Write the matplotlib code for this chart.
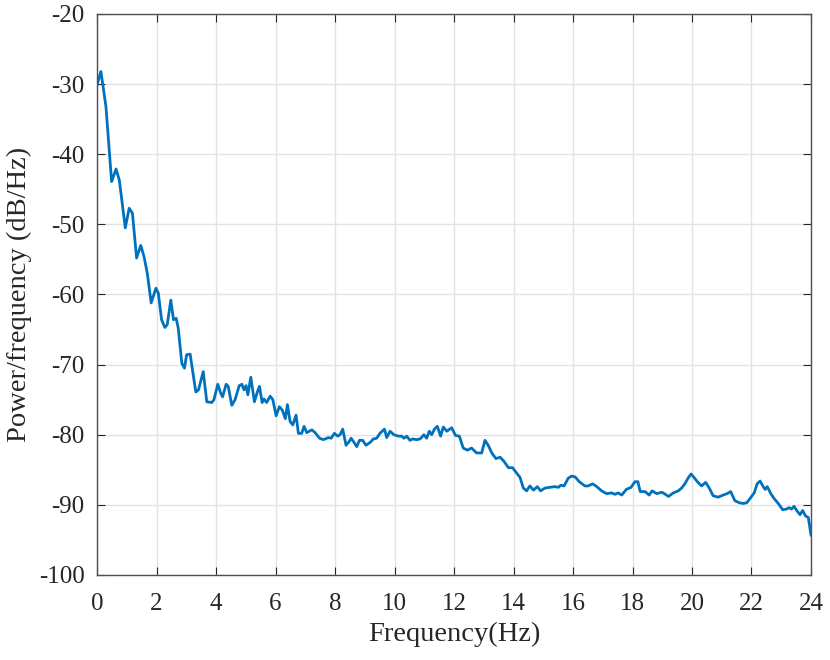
import matplotlib
matplotlib.use("Agg")
import matplotlib.pyplot as plt

plt.rcParams['font.family'] = ['Liberation Serif', 'DejaVu Serif']
plt.rcParams['axes.unicode_minus'] = False

# values
freq = [0.00, 0.13, 0.30, 0.49, 0.64, 0.75, 0.95, 1.08, 1.19, 1.33, 1.47, 1.58,
        1.69, 1.82, 1.98, 2.06, 2.17, 2.28, 2.36, 2.48, 2.57, 2.66, 2.73, 2.85,
        2.94, 3.01, 3.13, 3.32, 3.41, 3.57, 3.69, 3.86, 3.93, 4.06, 4.16, 4.22,
        4.34, 4.41, 4.53, 4.64, 4.78, 4.87, 4.94, 5.01, 5.07, 5.17, 5.29, 5.39,
        5.46, 5.55, 5.61, 5.70, 5.82, 5.91, 6.02, 6.13, 6.23, 6.33, 6.40, 6.49,
        6.58, 6.69, 6.77, 6.88, 6.96, 7.05, 7.22, 7.33, 7.48, 7.61, 7.78, 7.87,
        7.98, 8.09, 8.17, 8.26, 8.37, 8.47, 8.54, 8.64, 8.73, 8.82, 8.93, 9.04,
        9.18, 9.29, 9.40, 9.51, 9.66, 9.74, 9.85, 9.98, 10.13, 10.24, 10.32, 10.41,
        10.52, 10.61, 10.74, 10.86, 10.99, 11.08, 11.17, 11.25, 11.34, 11.44, 11.55, 11.64,
        11.76, 11.92, 12.05, 12.18, 12.31, 12.45, 12.59, 12.76, 12.93, 13.04, 13.15, 13.27,
        13.41, 13.55, 13.68, 13.83, 13.97, 14.11, 14.22, 14.33, 14.44, 14.55, 14.67, 14.80,
        14.91, 15.06, 15.23, 15.39, 15.51, 15.59, 15.70, 15.84, 15.95, 16.07, 16.21, 16.40,
        16.51, 16.66, 16.80, 16.96, 17.13, 17.30, 17.41, 17.52, 17.64, 17.79, 17.95, 18.08,
        18.18, 18.26, 18.42, 18.56, 18.66, 18.81, 18.98, 19.07, 19.21, 19.37, 19.54, 19.65,
        19.76, 19.88, 19.97, 20.07, 20.18, 20.32, 20.46, 20.58, 20.71, 20.88, 21.05, 21.18,
        21.30, 21.44, 21.59, 21.72, 21.84, 21.95, 22.09, 22.19, 22.29, 22.38, 22.46, 22.53,
        22.65, 22.76, 22.90, 23.05, 23.18, 23.26, 23.35, 23.43, 23.52, 23.63, 23.72, 23.82,
        23.91, 24.00]
psd = [-30.1, -28.2, -33.2, -43.9, -42.1, -43.7, -50.5, -47.7, -48.4, -54.8, -53.0, -54.6,
       -57.0, -61.2, -59.1, -59.8, -63.6, -64.7, -64.3, -60.8, -63.6, -63.4, -64.8, -69.8,
       -70.5, -68.6, -68.5, -73.9, -73.6, -71.0, -75.3, -75.4, -75.0, -72.8, -74.1, -74.6,
       -72.8, -73.1, -75.8, -75.0, -73.0, -72.8, -73.6, -73.0, -74.3, -71.8, -75.3, -73.9,
       -73.1, -75.4, -74.9, -75.4, -74.5, -75.0, -77.3, -76.0, -76.5, -77.7, -75.7, -78.1,
       -78.6, -77.2, -79.8, -79.8, -78.8, -79.7, -79.3, -79.7, -80.5, -80.7, -80.4, -80.5,
       -79.8, -80.2, -80.0, -79.2, -81.5, -81.0, -80.5, -81.1, -81.7, -80.8, -80.8, -81.5,
       -81.1, -80.6, -80.5, -79.8, -79.2, -80.4, -79.5, -80.0, -80.2, -80.2, -80.5, -80.2,
       -80.8, -80.6, -80.7, -80.6, -80.0, -80.5, -79.5, -80.0, -79.2, -78.8, -80.2, -78.9,
       -79.5, -79.0, -80.1, -80.2, -81.9, -82.2, -81.9, -82.6, -82.6, -80.8, -81.5, -82.6,
       -83.4, -83.2, -83.8, -84.7, -84.7, -85.5, -86.1, -87.6, -88.0, -87.3, -87.9, -87.4,
       -88.0, -87.6, -87.5, -87.4, -87.5, -87.2, -87.3, -86.2, -85.9, -86.0, -86.7, -87.3,
       -87.3, -87.0, -87.4, -88.0, -88.4, -88.3, -88.5, -88.3, -88.6, -87.8, -87.5, -86.7,
       -86.7, -88.1, -88.1, -88.6, -88.0, -88.4, -88.2, -88.4, -88.8, -88.3, -88.0, -87.6,
       -87.0, -86.1, -85.6, -86.1, -86.7, -87.3, -86.8, -87.6, -88.7, -88.9, -88.6, -88.4,
       -88.1, -89.4, -89.7, -89.8, -89.7, -89.1, -88.3, -87.0, -86.6, -87.3, -87.8, -87.4,
       -88.4, -89.1, -89.8, -90.7, -90.6, -90.4, -90.6, -90.2, -90.8, -91.4, -90.8, -91.6,
       -91.8, -94.3]

xticks = list(range(0, 25, 2))
yticks = list(range(-100, -19, 10))

fig = plt.figure(figsize=(8.3, 6.6), dpi=100)
ax = fig.add_axes([0.1169, 0.1288, 0.8602, 0.85])

ax.plot(freq, psd, color='#0072BD', linewidth=2.0)

ax.set_xlim(0, 24)
ax.set_ylim(-100, -20)
ax.set_xticks(xticks)
ax.set_yticks(yticks)
ax.grid(True, color='#e3e3e3', linewidth=1.0)
ax.set_axisbelow(True)

ax.tick_params(direction='in', length=6, width=0.8, colors='#262626',
               labelsize=18, top=True, right=True)
ax.tick_params(axis='x', pad=13)
ax.tick_params(axis='y', pad=9)
for s in ax.spines.values():
    s.set_color('#505050')
    s.set_linewidth(1.0)

ax.set_xlabel('Frequency(Hz)', fontsize=20.5, color='#262626', labelpad=5)
ax.set_ylabel('Power/frequency (dB/Hz)', fontsize=20.5, color='#262626', labelpad=5)

fig.savefig('out.png', dpi=100)
